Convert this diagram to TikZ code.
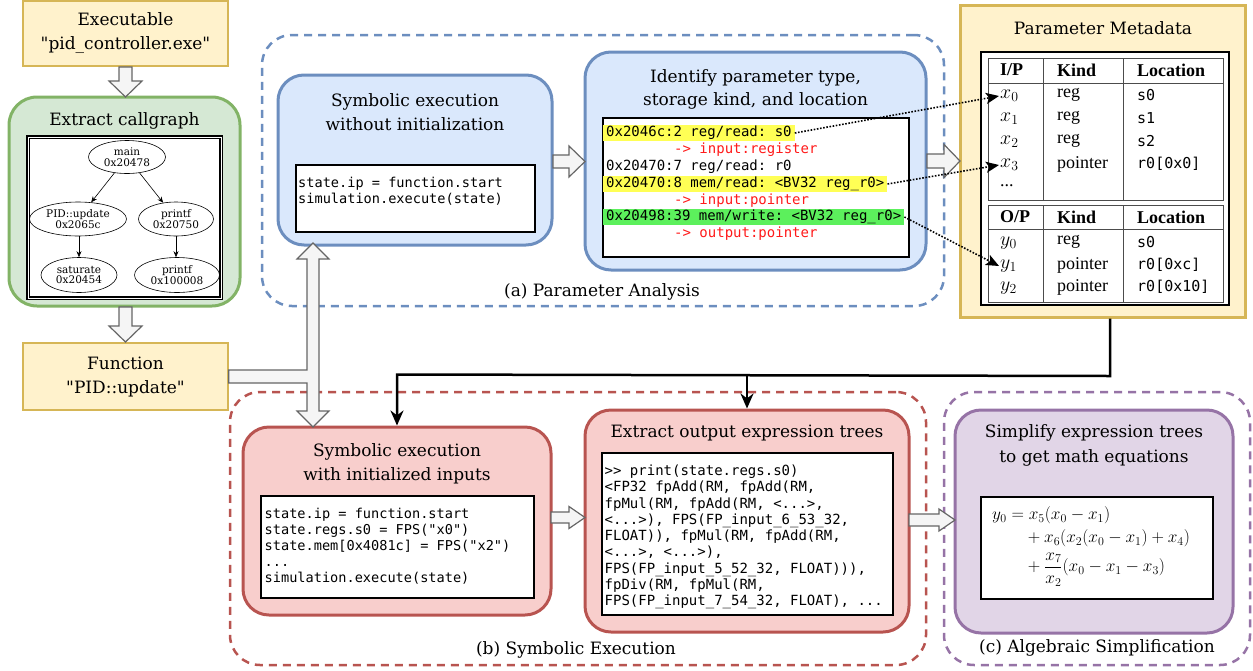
\documentclass[tikz,border=0pt]{standalone}
\usepackage{amsmath}
\usepackage[no-math]{fontspec}
\setmainfont{DejaVu Serif}
\setmonofont{DejaVu Sans Mono}
\newfontfamily\tabfont{Liberation Serif}
\usetikzlibrary{shapes.geometric,arrows.meta,calc}
\definecolor{blueF}{HTML}{DAE8FC}\definecolor{blueD}{HTML}{6C8EBF}
\definecolor{redF}{HTML}{F8CECC}\definecolor{redD}{HTML}{B85450}
\definecolor{purF}{HTML}{E1D5E7}\definecolor{purD}{HTML}{9673A6}
\definecolor{grnF}{HTML}{D5E8D4}\definecolor{grnD}{HTML}{82B366}
\definecolor{yelF}{HTML}{FFF2CC}\definecolor{yelD}{HTML}{D6B656}
\definecolor{grayF}{HTML}{F5F5F5}\definecolor{grayD}{HTML}{666666}
\definecolor{hiY}{HTML}{FFFF55}\definecolor{hiG}{HTML}{5CF05C}
\definecolor{redT}{HTML}{FF1A1A}
\newcommand\ttlfont{\fontsize{17}{24}\selectfont}
\newcommand\codeA{\ttfamily\fontsize{14}{16.7}\selectfont}
\newcommand\codeB{\ttfamily\fontsize{13.6}{16}\selectfont}
\newcommand\codeC{\ttfamily\fontsize{14}{16.3}\selectfont}
\newcommand\tabf{\tabfont\fontsize{18}{20}\selectfont}
\newcommand\tabm{\ttfamily\fontsize{15}{18}\selectfont}
\newcommand\cgf{\fontsize{10.5}{10.5}\selectfont}
\newcommand\qq{\textquotedbl}
\newcommand\tm[1]{\scalebox{1.15}{$#1$}}
% block arrows: right and down
\newcommand\barR[5]{\draw[barrow] (#1,#3-#4) -- (#2-16,#3-#4) -- (#2-16,#3-#5) -- (#2,#3) -- (#2-16,#3+#5) -- (#2-16,#3+#4) -- (#1,#3+#4) -- cycle;}
\newcommand\barD[5]{\draw[barrow] (#3-#4,#1) -- (#3-#4,#2-16) -- (#3-#5,#2-16) -- (#3,#2) -- (#3+#5,#2-16) -- (#3+#4,#2-16) -- (#3+#4,#1) -- cycle;}
\begin{document}
\begin{tikzpicture}[x=1pt,y=-1pt,
  bxs/.style={rounded corners=26pt, line width=3pt, inner sep=0pt},
  grpbox/.style={rounded corners=30pt, line width=2.5pt, dash pattern=on 8pt off 6pt, inner sep=0pt},
  codebx/.style={draw=black, fill=white, line width=1.6pt, inner sep=0pt},
  ttl/.style={font=\ttlfont, align=center, inner sep=0pt},
  barrow/.style={fill=grayF, draw=grayD, line width=1.2pt, line join=miter},
  connarr/.style={line width=2.5pt, line join=miter, -{Stealth[length=15pt,width=13pt]}},
  dotarr/.style={line width=1.6pt, dash pattern=on 1.6pt off 1.6pt, -{Stealth[length=13pt,width=11pt,inset=3pt]}},
  cline/.style={anchor=west, font=\codeA, inner xsep=3pt, inner ysep=0pt, text height=11.5pt, text depth=4.5pt},
  tcell/.style={anchor=west, font=\tabf, inner sep=1pt},
  tmono/.style={anchor=west, font=\tabm, inner sep=1pt},
  cgn/.style={ellipse, draw, line width=0.6pt, inner sep=0pt, align=center, font=\cgf},
  cge/.style={line width=0.6pt, -{Stealth[length=6pt,width=5pt]}},
  tabline/.style={draw=black!70, line width=1pt}]
\useasboundingbox (0,0) rectangle (1253,670);

% ---------- groups ----------
\node[grpbox, draw=blueD, minimum width=682pt, minimum height=271pt] (grpA) at (603,170.5) {};
\node[ttl] (labA) at (602,292) {(a) Parameter Analysis};
\node[grpbox, draw=redD, minimum width=696pt, minimum height=273pt] (grpB) at (578,528.5) {};
\node[ttl] (labB) at (576,650) {(b) Symbolic Execution};
\node[grpbox, draw=purD, minimum width=306pt, minimum height=273pt] (grpC) at (1097,528.5) {};
\node[ttl] (labC) at (1097,648) {(c) Algebraic Simplification};

% ---------- left column ----------
\node[draw=yelD, fill=yelF, line width=1.5pt, minimum width=205pt, minimum height=65pt, inner sep=0pt] (exe) at (125.5,33.5) {};
\node[ttl] (exeT) at (125.5,33.5) {Executable\\\qq pid\_controller.exe\qq};

\node[bxs, fill=grnF, draw=grnD, rounded corners=28pt, minimum width=231pt, minimum height=209pt] (cg) at (124.5,201.5) {};
\node[ttl] (cgT) at (124.5,121) {Extract callgraph};
\node[draw=black, fill=white, line width=1.3pt, double=white, double distance=0.8pt, minimum width=193pt, minimum height=161pt, inner sep=0pt] (cgimg) at (124.5,217.5) {};
\node[cgn, minimum width=77pt, minimum height=33pt] (cmain) at (127,157) {main\\0x20478};
\node[cgn, minimum width=97pt, minimum height=34pt] (cpid) at (78,219) {PID::update\\0x2065c};
\node[cgn, minimum width=75pt, minimum height=34pt] (cpf1) at (176,219) {printf\\0x20750};
\node[cgn, minimum width=76pt, minimum height=35pt] (csat) at (79,275) {saturate\\0x20454};
\node[cgn, minimum width=85pt, minimum height=35pt] (cpf2) at (177,275) {printf\\0x100008};
\draw[cge] (cmain) -- (cpid);
\draw[cge] (cmain) -- (cpf1);
\draw[cge] (cpid.south -| csat.north) -- (csat.north);
\draw[cge] (cpf1.south) -- (cpf1.south |- cpf2.north);

\node[draw=yelD, fill=yelF, line width=1.5pt, minimum width=205pt, minimum height=67pt, inner sep=0pt] (fn) at (125.5,376.5) {};
\node[ttl] (fnT) at (125.5,377) {Function\\\qq PID::update\qq};

% ---------- (a) parameter analysis ----------
\node[bxs, fill=blueF, draw=blueD, minimum width=274pt, minimum height=170pt] (bA1) at (415,160) {};
\node[ttl] (tA1) at (415,112) {Symbolic execution\\without initialization};
\node[codebx, minimum width=239pt, minimum height=67pt] (cA1) at (415.5,198.5) {};
\node[anchor=west, align=left, font=\codeB, inner sep=0pt] (txA1) at (298,191) {state.ip = function.start\\simulation.execute(state)};

\node[bxs, fill=blueF, draw=blueD, minimum width=341pt, minimum height=218pt] (bA2) at (755.5,161) {};
\node[ttl, font=\fontsize{17}{23}\selectfont] (tA2) at (755.5,89.5) {Identify parameter type,\\storage kind, and location};
\node[codebx, minimum width=306pt, minimum height=139pt] (cA2) at (756,187.5) {};
\node[cline, fill=hiY] (l1) at (603,133) {0x2046c:2 reg/read: s0};
\node[cline, text=redT] (l2) at (671,150) {-> input:register};
\node[cline] (l3) at (603,167) {0x20470:7 reg/read: r0};
\node[cline, fill=hiY] (l4) at (603,184) {0x20470:8 mem/read: <BV32 reg\_r0>};
\node[cline, text=redT] (l5) at (671,200.5) {-> input:pointer};
\node[cline, fill=hiG] (l6) at (603,217) {0x20498:39 mem/write: <BV32 reg\_r0>};
\node[cline, text=redT] (l7) at (671,234) {-> output:pointer};

% ---------- metadata ----------
\node[draw=yelD, fill=yelF, line width=3pt, minimum width=285pt, minimum height=312pt, inner sep=0pt] (meta) at (1102.5,161) {};
\node[ttl] (metaT) at (1103,28) {Parameter Metadata};
\draw[line width=1.6pt, fill=white] (981,52) rectangle (1229,305);
\draw[tabline] (988,58) rectangle (1223,200);
\draw[tabline] (988,205) rectangle (1223,302);
\draw[tabline] (1043,58) -- (1043,200) (1123,58) -- (1123,200) (988,83) -- (1223,83);
\draw[tabline] (1043,205) -- (1043,302) (1123,205) -- (1123,302) (988,229) -- (1223,229);
\node[tcell] (hIP) at (999,70) {\bfseries I/P};
\node[tcell] (hK1) at (1056,70) {\bfseries Kind};
\node[tcell] (hL1) at (1136,70) {\bfseries Location};
\node[tcell] (x0) at (999,96) {\tm{x_0}};
\node[tcell] (k0) at (1056,95) {reg};
\node[tmono] (m0) at (1136,95) {s0};
\node[tcell] (x1) at (999,119) {\tm{x_1}};
\node[tcell] (k1) at (1056,118) {reg};
\node[tmono] (m1) at (1136,118) {s1};
\node[tcell] (x2) at (999,142) {\tm{x_2}};
\node[tcell] (k2) at (1056,141) {reg};
\node[tmono] (m2) at (1136,141) {s2};
\node[tcell] (x3) at (999,165) {\tm{x_3}};
\node[tcell] (k3) at (1056,164) {pointer};
\node[tmono] (m3) at (1136,164) {r0[0x0]};
\node[tcell] (xd) at (999,186) {...};
\node[tcell] (hOP) at (999,217) {\bfseries O/P};
\node[tcell] (hK2) at (1056,217) {\bfseries Kind};
\node[tcell] (hL2) at (1136,217) {\bfseries Location};
\node[tcell] (y0) at (999,243) {\tm{y_0}};
\node[tcell] (q0) at (1056,242) {reg};
\node[tmono] (n0) at (1136,242) {s0};
\node[tcell] (y1) at (999,266) {\tm{y_1}};
\node[tcell] (q1) at (1056,265) {pointer};
\node[tmono] (n1) at (1136,265) {r0[0xc]};
\node[tcell] (y2) at (999,288) {\tm{y_2}};
\node[tcell] (q2) at (1056,287) {pointer};
\node[tmono] (n2) at (1136,287) {r0[0x10]};

% ---------- (b) symbolic execution ----------
\node[bxs, fill=redF, draw=redD, minimum width=308pt, minimum height=188pt] (bB1) at (397,521) {};
\node[ttl] (tB1) at (397,463.5) {Symbolic execution\\with initialized inputs};
\node[codebx, minimum width=273pt, minimum height=102pt] (cB1) at (397.5,547) {};
\node[anchor=west, align=left, font=\codeB, inner sep=0pt] (txB1) at (264.5,546) {state.ip = function.start\\state.regs.s0 = FPS("x0")\\state.mem[0x4081c] = FPS("x2")\\...\\simulation.execute(state)};

\node[bxs, fill=redF, draw=redD, minimum width=324pt, minimum height=222pt] (bB2) at (747,521) {};
\node[ttl] (tB2) at (747,433) {Extract output expression trees};
\node[codebx, minimum width=291pt, minimum height=162pt] (cB2) at (747.5,534) {};
\node[anchor=west, align=left, font=\codeC, inner sep=0pt] (txB2) at (604.5,537) {>> print(state.regs.s0)\\<FP32 fpAdd(RM, fpAdd(RM,\\fpMul(RM, fpAdd(RM, <...>,\\<...>), FPS(FP\_input\_6\_53\_32,\\FLOAT)), fpMul(RM, fpAdd(RM,\\<...>, <...>),\\FPS(FP\_input\_5\_52\_32, FLOAT))),\\fpDiv(RM, fpMul(RM,\\FPS(FP\_input\_7\_54\_32, FLOAT), ...};

% ---------- (c) algebraic simplification ----------
\node[bxs, fill=purF, draw=purD, minimum width=278pt, minimum height=223pt] (bC) at (1094,521.5) {};
\node[ttl, font=\fontsize{17}{25}\selectfont] (tC) at (1094,445.5) {Simplify expression trees\\to get math equations};
\node[codebx, minimum width=232pt, minimum height=102pt] (cC) at (1097,548) {};
\node[font=\fontsize{17.28}{20}\selectfont, inner sep=0pt, anchor=west] (eq) at (992,546) {\setlength\jot{3pt}$\begin{aligned} y_0 &= x_5(x_0-x_1)\\ &\quad + x_6(x_2(x_0-x_1)+x_4)\\ &\quad + \frac{x_7}{x_2}(x_0-x_1-x_3)\end{aligned}$};

% ---------- block arrows ----------
\barD{67}{97}{125.5}{6.5}{16.5}
\barD{307}{342}{125.5}{6.5}{16.5}
\barR{553}{585}{161.5}{6.5}{15.5}
\barR{927}{960}{161}{7}{16.5}
\barR{551}{585}{517.5}{5.5}{11}
\barR{909}{955}{520}{6}{11}
\draw[barrow] (fn.east |- 0,370) -- (307,370) -- (307,259) -- (297,259) -- (313,243) -- (329,259) -- (319,259) -- (319,411) -- (329,411) -- (313,427) -- (297,411) -- (307,411) -- (307,383) -- (fn.east |- 0,383) -- cycle;

% ---------- black connectors ----------
\coordinate (jn) at (1110,376);
\draw[connarr] (meta.south -| jn) -- (jn) -- ([yshift=51pt]bB1.north) -- (bB1.north);
\draw[connarr] (jn -| bB2.north) -- (bB2.north);

% ---------- dotted mapping arrows ----------
\draw[dotarr] (l1.east) -- (x0.west);
\draw[dotarr] (l4.east) -- (x3.west);
\draw[dotarr] (l6.east) -- (y1.west);
\end{tikzpicture}
\end{document}
